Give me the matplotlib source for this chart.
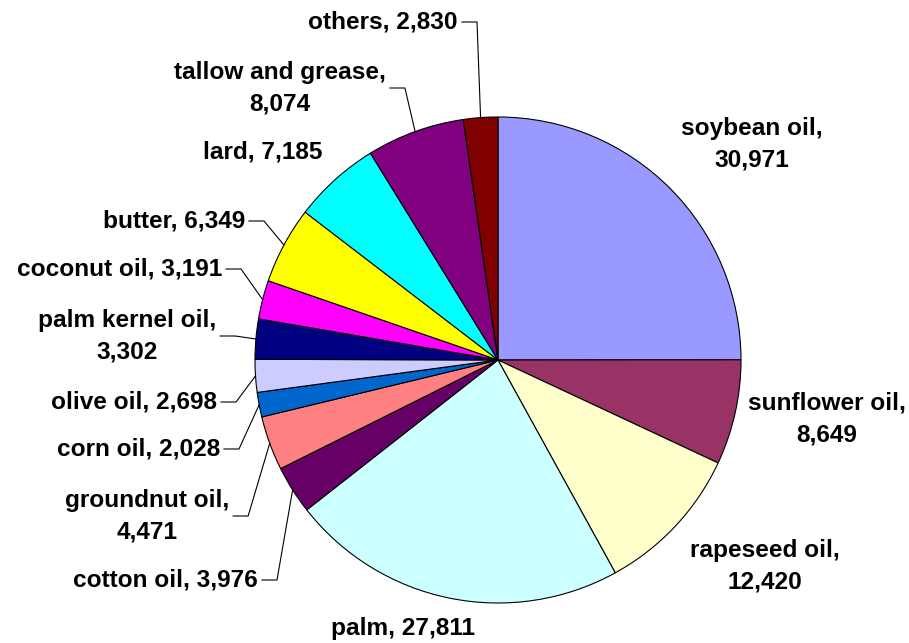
import numpy as np
import matplotlib
matplotlib.use('Agg')
import matplotlib.pyplot as plt

plt.rcParams['font.family'] = ['Liberation Sans', 'DejaVu Sans']

# data
oils = ['soybean oil', 'sunflower oil', 'rapeseed oil', 'palm', 'cotton oil',
        'groundnut oil', 'corn oil', 'olive oil', 'palm kernel oil',
        'coconut oil', 'butter', 'lard', 'tallow and grease', 'others']
amounts = [30971, 8649, 12420, 27811, 3976, 4471, 2028, 2698, 3302,
           3191, 6349, 7185, 8074, 2830]
colors = ['#9999FF', '#993366', '#FFFFCC', '#CCFFFF', '#660066', '#FF8080',
          '#0066CC', '#CCCCFF', '#000080', '#FF00FF', '#FFFF00', '#00FFFF',
          '#800080', '#800000']
# labels that wrap onto two lines
two_line = {'soybean oil', 'sunflower oil', 'rapeseed oil', 'palm kernel oil',
            'groundnut oil', 'tallow and grease'}

# label layout in pixels (x, y, ha, leader)
layout = {
    'soybean oil':       (752, 144, 'center', False),
    'sunflower oil':     (827, 419, 'center', False),
    'rapeseed oil':      (765, 566, 'center', False),
    'palm':              (403, 628, 'center', False),
    'cotton oil':        (258, 580, 'right', True),
    'groundnut oil':     (147, 516, 'center', True),
    'corn oil':          (220, 449, 'right', True),
    'olive oil':         (217, 402, 'right', True),
    'palm kernel oil':   (127, 336, 'center', True),
    'coconut oil':       (222, 269, 'right', True),
    'butter':            (245, 221, 'right', True),
    'lard':              (263, 152, 'center', False),
    'tallow and grease': (280, 88, 'center', True),
    'others':            (458, 22, 'right', True),
}

W, H = 909, 643
cx, cy, r = 498, 360, 243

fig = plt.figure(figsize=(9.09, 6.43), dpi=100)
ax = fig.add_axes([0, 0, 1, 1])

ax.pie(amounts, colors=colors, startangle=90, counterclock=False,
       center=(cx, H - cy), radius=r, frame=True,
       wedgeprops=dict(edgecolor='black', linewidth=0.8))
ax.set_xlim(0, W)
ax.set_ylim(0, H)
ax.set_aspect('equal')
ax.axis('off')

total = float(sum(amounts))
cum = np.cumsum([0] + amounts[:-1])
for name, val, c0 in zip(oils, amounts, cum):
    lx, ly, ha, leader = layout[name]
    txt = '{}, {:,}'.format(name, val)
    if name in two_line:
        txt = '{},\n{:,}'.format(name, val)
    t = ax.text(lx, H - ly, txt, ha=ha, va='center', fontsize=17.6,
                fontweight='bold', linespacing=1.45, multialignment='center')
    if leader:
        ang = np.deg2rad(90 - 360 * (c0 + val / 2.0) / total)
        px = cx + r * np.cos(ang)
        py = H - (cy - r * np.sin(ang))
        fig.canvas.draw()
        bb = t.get_window_extent()
        sx = bb.x1 + 4
        sy = H - ly
        ex = sx + 15
        ax.plot([sx, ex, px], [sy, sy, py], color='black', linewidth=0.8)

fig.savefig('out.png', dpi=100)
